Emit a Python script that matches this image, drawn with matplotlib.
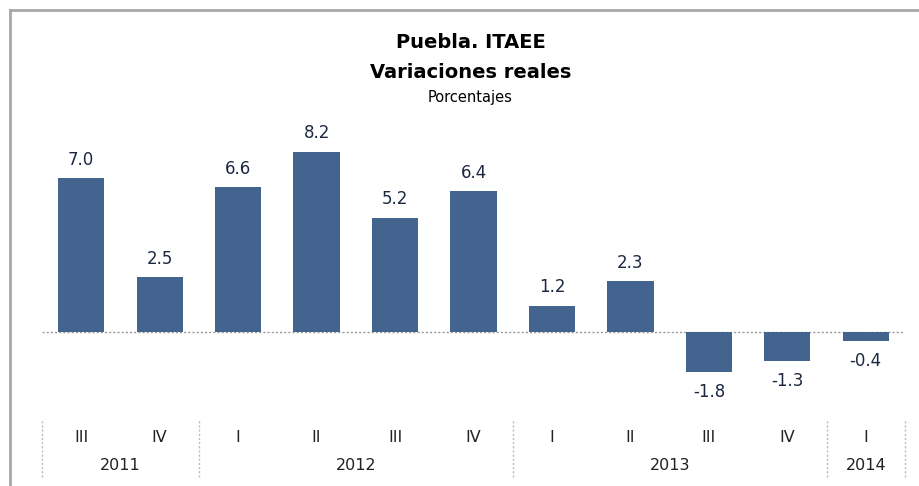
import matplotlib.pyplot as plt
import matplotlib.transforms as mtransforms
from matplotlib.lines import Line2D

# data
quarters = ["III", "IV", "I", "II", "III", "IV", "I", "II", "III", "IV", "I"]
values = [7.0, 2.5, 6.6, 8.2, 5.2, 6.4, 1.2, 2.3, -1.8, -1.3, -0.4]
years = ["2011", "2012", "2013", "2014"]
year_counts = [2, 4, 4, 1]

plt.rcParams['font.family'] = ['DejaVu Sans']

fig = plt.figure(figsize=(9.19, 4.86), dpi=100)
ax = fig.add_axes([0.0457, 0.2037, 0.9391, 0.5432])

x = list(range(len(values)))
ax.bar(x, values, width=0.59, color="#42648f", zorder=2)
ax.axhline(0, color="#999999", lw=1, ls=(0, (1.5, 1.5)), zorder=1)

for xi, v in zip(x, values):
    if v >= 0:
        ax.text(xi, v + 0.42, f"{v:.1f}", ha="center", va="bottom", fontsize=12, color="#1c2740")
    else:
        ax.text(xi, v - 0.5, f"{v:.1f}", ha="center", va="top", fontsize=12, color="#1c2740")

ax.set_xlim(-0.5, len(values) - 0.5)
ax.set_ylim(-2.5, 9.5)
ax.axis("off")

# category axis below: quarters, years, dotted separators
trans = mtransforms.blended_transform_factory(ax.transData, fig.transFigure)
for xi, q in zip(x, quarters):
    ax.text(xi, 0.1008, q, transform=trans, ha="center", va="center", fontsize=11.5, color="#222222")

start = 0
seps = [-0.5]
for yr, n in zip(years, year_counts):
    mid = start + (n - 1) / 2
    ax.text(mid, 0.0432, yr, transform=trans, ha="center", va="center", fontsize=11.5, color="#222222")
    start += n
    seps.append(start - 0.5)
for s in seps:
    ax.add_line(Line2D([s, s], [0.0185, 0.1358], transform=trans, color="#bbbbbb",
                       lw=1, ls=(0, (1.5, 1.5)), clip_on=False))

# titles
tx = 0.512
fig.text(tx, 1 - 43 / 486, "Puebla. ITAEE", ha="center", va="center", fontsize=14, fontweight="bold")
fig.text(tx, 1 - 72 / 486, "Variaciones reales", ha="center", va="center", fontsize=14, fontweight="bold")
fig.text(tx, 1 - 97 / 486, "Porcentajes", ha="center", va="center", fontsize=10.5)

# frame of the original picture (top and left edges)
fig.add_artist(Line2D([9.5 / 919, 1], [1 - 10.5 / 486] * 2, transform=fig.transFigure, color="#a8a8a8", lw=2))
fig.add_artist(Line2D([9.5 / 919] * 2, [0, 1 - 10.5 / 486], transform=fig.transFigure, color="#a8a8a8", lw=2))

fig.savefig("out.png", dpi=100)
